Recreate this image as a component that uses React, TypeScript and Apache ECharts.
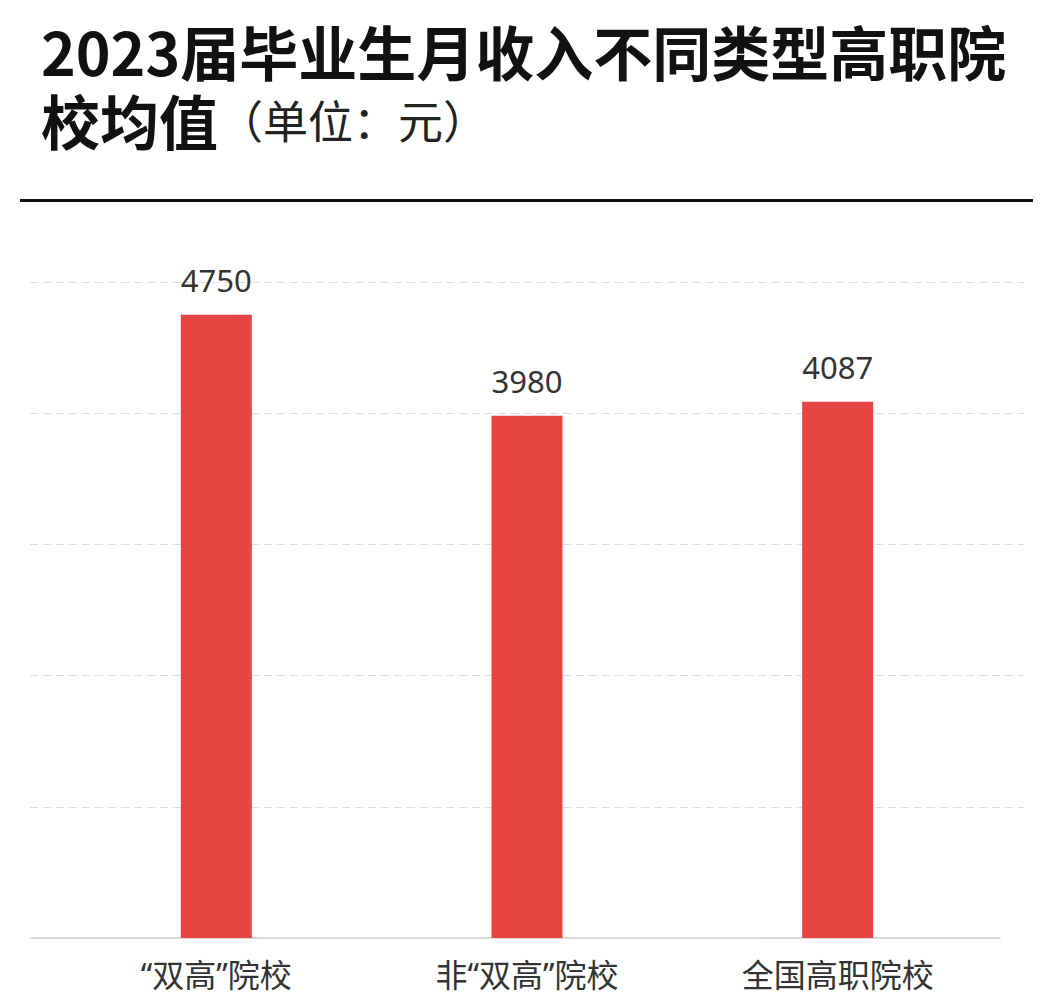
import React, { useEffect, useRef } from "react";
import * as echarts from "echarts";

const categories = ["“双高”院校", "非“双高”院校", "全国高职院校"];
const incomeValues = [4750, 3980, 4087];
const yMin = 0;
const yMax = 5000;
const yInterval = 1000;

const FONT = "'Noto Sans CJK SC', 'Noto Sans', sans-serif";
const LABEL_FONT = "'Noto Sans', 'Noto Sans CJK SC', sans-serif";

export default function App() {
  const ref = useRef<HTMLDivElement>(null);
  useEffect(() => {
    if (!ref.current) return;
    const chart = echarts.init(ref.current, null, { renderer: "svg" });
    const top = 282;
    const bottom = 70;
    chart.setOption({
      animation: false,
      backgroundColor: "#ffffff",
      title: [
        {
          text: "2023届毕业生月收入不同类型高职院",
          left: 41,
          top: 20,
          padding: 0,
          textStyle: { fontFamily: FONT, fontSize: 59, lineHeight: 60, fontWeight: "bold", color: "#111" },
        },
        {
          text: "{b|校均值}{n|（单位：元）}",
          left: 41,
          top: 89,
          padding: 0,
          textStyle: {
            lineHeight: 60,
            rich: {
              b: { fontFamily: FONT, fontSize: 59, lineHeight: 60, fontWeight: "bold", color: "#111" },
              n: { fontFamily: FONT, fontSize: 45, lineHeight: 60, fontWeight: "normal", color: "#222" },
            },
          },
        },
      ],
      graphic: [
        {
          type: "rect",
          shape: { x: 20, y: 199, width: 1013, height: 3 },
          style: { fill: "#111" },
        },
      ],
      grid: [
        { left: 30, right: 23, top, bottom },
        { left: 31, right: 47, top, bottom },
        { left: 61, width: 932, top, bottom },
      ],
      xAxis: [
        { gridIndex: 0, type: "category", data: categories, show: false },
        {
          gridIndex: 1,
          type: "category",
          data: categories,
          axisLine: { show: true, lineStyle: { color: "#cccccc", width: 1.5 } },
          axisTick: { show: false },
          axisLabel: { show: false },
        },
        {
          gridIndex: 2,
          type: "category",
          data: categories,
          axisLine: { show: false },
          axisTick: { show: false },
          axisLabel: { margin: 20, fontFamily: LABEL_FONT, fontSize: 32, color: "#333" },
        },
      ],
      yAxis: [
        {
          gridIndex: 0,
          type: "value",
          min: yMin,
          max: yMax,
          interval: yInterval,
          axisLabel: { show: false },
          axisLine: { show: false },
          axisTick: { show: false },
          splitLine: {
            show: true,
            showMinLine: false,
            lineStyle: { color: "#dddddd", type: [8, 5], width: 1 },
          },
        },
        { gridIndex: 1, type: "value", min: yMin, max: yMax, interval: yInterval, show: false, splitLine: { show: false } },
        { gridIndex: 2, type: "value", min: yMin, max: yMax, interval: yInterval, show: false, splitLine: { show: false } },
      ],
      series: [
        {
          type: "bar",
          xAxisIndex: 2,
          yAxisIndex: 2,
          data: incomeValues,
          barWidth: 71,
          itemStyle: { color: "#e84444" },
          label: {
            show: true,
            position: "top",
            distance: 19,
            fontFamily: LABEL_FONT,
            fontSize: 31,
            color: "#333",
          },
        },
      ],
    });
    return () => chart.dispose();
  }, []);
  return (
    <div
      ref={ref}
      style={{ position: "fixed", left: 0, top: 0, width: 1047, height: 1008 }}
    />
  );
}
